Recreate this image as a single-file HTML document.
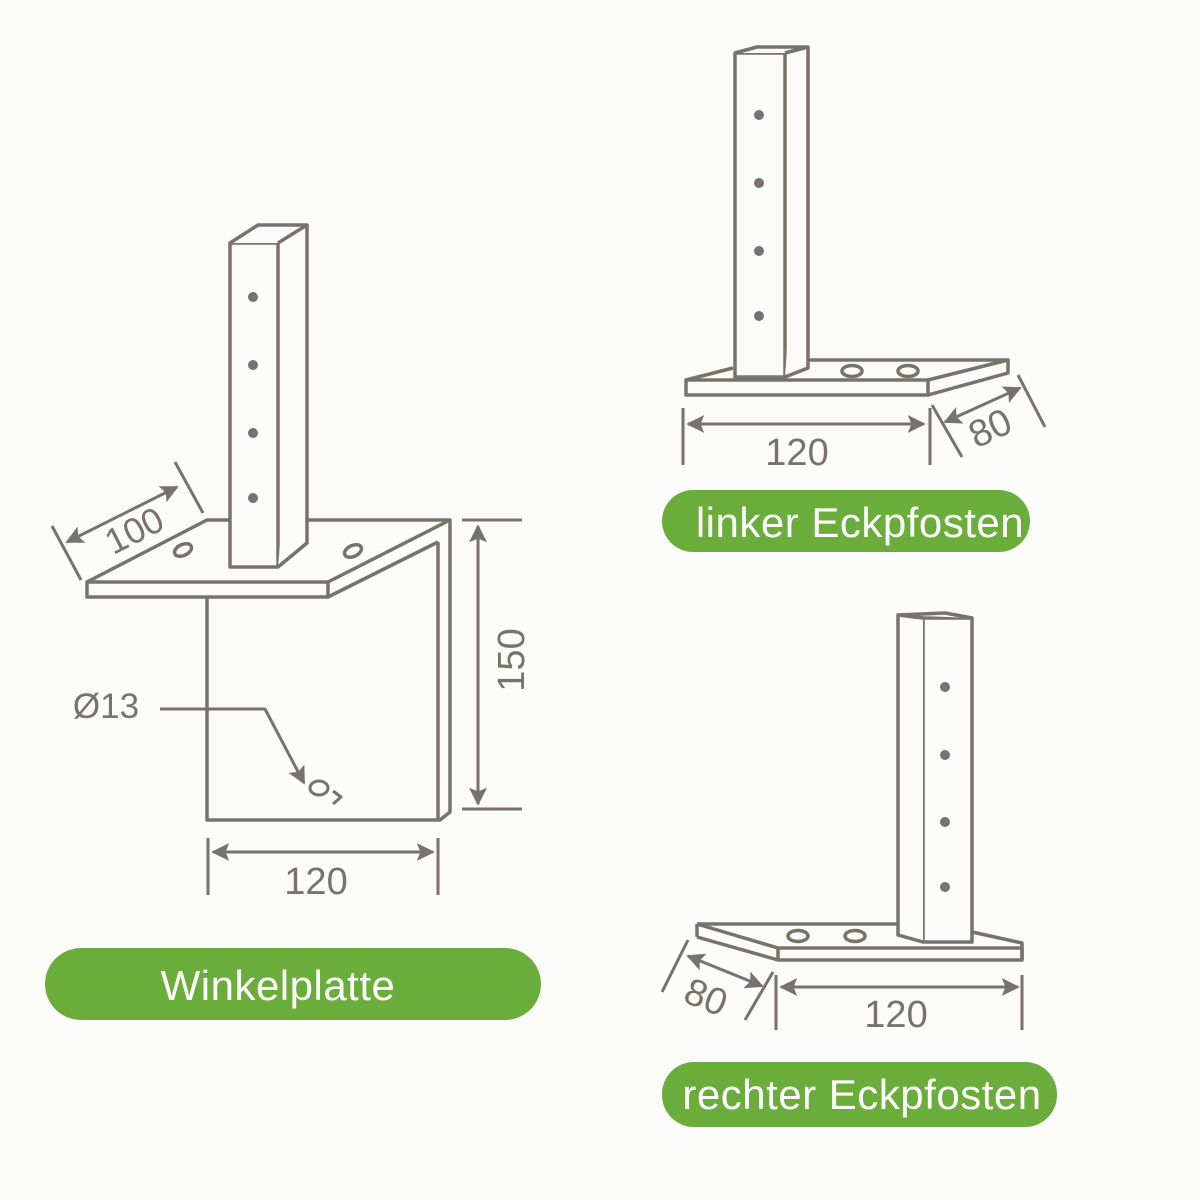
<!DOCTYPE html>
<html><head><meta charset="utf-8"><style>
html,body{margin:0;padding:0;background:#fbfbf9;}
svg{display:block}
text{font-family:"Liberation Sans",sans-serif;}
</style></head><body>
<svg width="1200" height="1200" viewBox="0 0 1200 1200" xmlns="http://www.w3.org/2000/svg">
<defs>
<marker id="ar" viewBox="0 0 10 10" refX="9" refY="5" markerWidth="6" markerHeight="6" orient="auto-start-reverse" markerUnits="strokeWidth">
<path d="M0,0 L10,5 L0,10 L2,5 z" fill="#77726b"/></marker>
</defs>
<rect width="1200" height="1200" fill="#fbfbf9"/>
<g fill="none" stroke="#77726b" stroke-width="3.5" stroke-linejoin="round">
<!-- Winkelplatte -->
<path d="M207,597 V820 H440 L450,812 V520"/>
<line x1="438" y1="542" x2="438" y2="820"/>
<path d="M87,582 L207,520 H230 M307,520 H450 L328,582" />
<rect x="87" y="582" width="241" height="15"/>
<path d="M328,597 L438,542"/>
<rect x="230" y="243" width="48" height="324" fill="#fbfbf9"/>
<path d="M230,243 L258,225 H307 L278,243 M307,225 V543 L278,567" fill="#fbfbf9"/>
<ellipse cx="183" cy="550" rx="9" ry="5.5" transform="rotate(-25 183 550)"/>
<ellipse cx="353" cy="551" rx="9" ry="5.5" transform="rotate(-25 353 551)"/>
<line x1="52" y1="526" x2="81" y2="580" stroke-width="3"/>
<line x1="175" y1="462" x2="203" y2="513" stroke-width="3"/>
<line x1="67" y1="542" x2="177" y2="487" stroke-width="3" marker-start="url(#ar)" marker-end="url(#ar)"/>
<line x1="462" y1="520" x2="522" y2="520" stroke-width="3"/>
<line x1="462" y1="809" x2="522" y2="809" stroke-width="3"/>
<line x1="478" y1="526" x2="478" y2="804" stroke-width="3" marker-start="url(#ar)" marker-end="url(#ar)"/>
<path d="M160,709 H265 L304,783" stroke-width="3" marker-end="url(#ar)"/>
<ellipse cx="319" cy="788" rx="9" ry="7" stroke-width="3"/>
<path d="M333,791 L341,797 L333,804" stroke-width="3"/>
<line x1="208" y1="838" x2="208" y2="895" stroke-width="3"/>
<line x1="438" y1="838" x2="438" y2="895" stroke-width="3"/>
<line x1="213" y1="852" x2="433" y2="852" stroke-width="3" marker-start="url(#ar)" marker-end="url(#ar)"/>

<!-- linker -->
<path d="M686,380 L733,368 M808,360 H1008 L928,380 M928,395 L1008,373 V360"/>
<rect x="686" y="380" width="242" height="15"/>
<rect x="735" y="53" width="50" height="324" fill="#fbfbf9"/>
<path d="M735,53 L757,47 H808 L785,53 M808,47 V368 L785,377" fill="#fbfbf9"/>
<ellipse cx="852" cy="371" rx="10" ry="5.5"/>
<ellipse cx="908" cy="371" rx="10" ry="5.5"/>
<line x1="683" y1="408" x2="683" y2="465" stroke-width="3"/>
<line x1="930" y1="408" x2="930" y2="465" stroke-width="3"/>
<line x1="688" y1="424" x2="924" y2="424" stroke-width="3" marker-start="url(#ar)" marker-end="url(#ar)"/>
<line x1="932" y1="405" x2="962" y2="457" stroke-width="3"/>
<line x1="1018" y1="375" x2="1045" y2="427" stroke-width="3"/>
<line x1="945" y1="422" x2="1020" y2="388" stroke-width="3" marker-start="url(#ar)" marker-end="url(#ar)"/>

<!-- rechter -->
<path d="M697,924 H898 M972,932 L1022,943 V960 M697,924 L778,948 M697,937 L778,960 M697,924 V937"/>
<rect x="778" y="948" width="244" height="12"/>
<rect x="923" y="618" width="49" height="324" fill="#fbfbf9"/>
<path d="M923,618 L898,615 V935 L923,942 M898,615 L945,613 L972,618" fill="#fbfbf9"/>
<ellipse cx="798" cy="936" rx="10" ry="5.5"/>
<ellipse cx="855" cy="936" rx="10" ry="5.5"/>
<line x1="662" y1="992" x2="688" y2="940" stroke-width="3"/>
<line x1="745" y1="1020" x2="773" y2="972" stroke-width="3"/>
<line x1="688" y1="956" x2="762" y2="986" stroke-width="3" marker-start="url(#ar)" marker-end="url(#ar)"/>
<line x1="776" y1="975" x2="776" y2="1030" stroke-width="3"/>
<line x1="1022" y1="975" x2="1022" y2="1030" stroke-width="3"/>
<line x1="781" y1="987" x2="1018" y2="987" stroke-width="3" marker-start="url(#ar)" marker-end="url(#ar)"/>
</g>
<g fill="#77726b">
<circle cx="253" cy="297" r="5"/><circle cx="253" cy="365" r="5"/><circle cx="253" cy="433" r="5"/><circle cx="253" cy="498" r="5"/>
<circle cx="759" cy="115" r="5"/><circle cx="759" cy="183" r="5"/><circle cx="759" cy="251" r="5"/><circle cx="759" cy="316" r="5"/>
<circle cx="945" cy="687" r="5"/><circle cx="945" cy="755" r="5"/><circle cx="945" cy="822" r="5"/><circle cx="945" cy="887" r="5"/>
</g>
<g fill="#77726b" font-size="38" text-anchor="middle">
<text x="134" y="543" font-size="36" transform="rotate(-27 134 530)">100</text>
<text x="512" y="672" transform="rotate(-90 512 660)">150</text>
<text x="106" y="718" font-size="35">Ø13</text>
<text x="316" y="894">120</text>
<text x="797" y="465">120</text>
<text x="990" y="441" transform="rotate(-25 990 428)">80</text>
<text x="706" y="1010" transform="rotate(22 706 997)">80</text>
<text x="896" y="1027">120</text>
</g>
<rect x="45" y="948" width="496" height="72" rx="36" fill="#6aad3b"/>
<rect x="662" y="490" width="368" height="62" rx="31" fill="#6aad3b"/>
<rect x="662" y="1062" width="395" height="65" rx="32" fill="#6aad3b"/>
<g fill="#ffffff" font-size="42" text-anchor="middle" letter-spacing="0.5">
<text x="278" y="1000">Winkelplatte</text>
<text x="860" y="537">linker Eckpfosten</text>
<text x="862" y="1109">rechter Eckpfosten</text>
</g>
</svg>
</body></html>
